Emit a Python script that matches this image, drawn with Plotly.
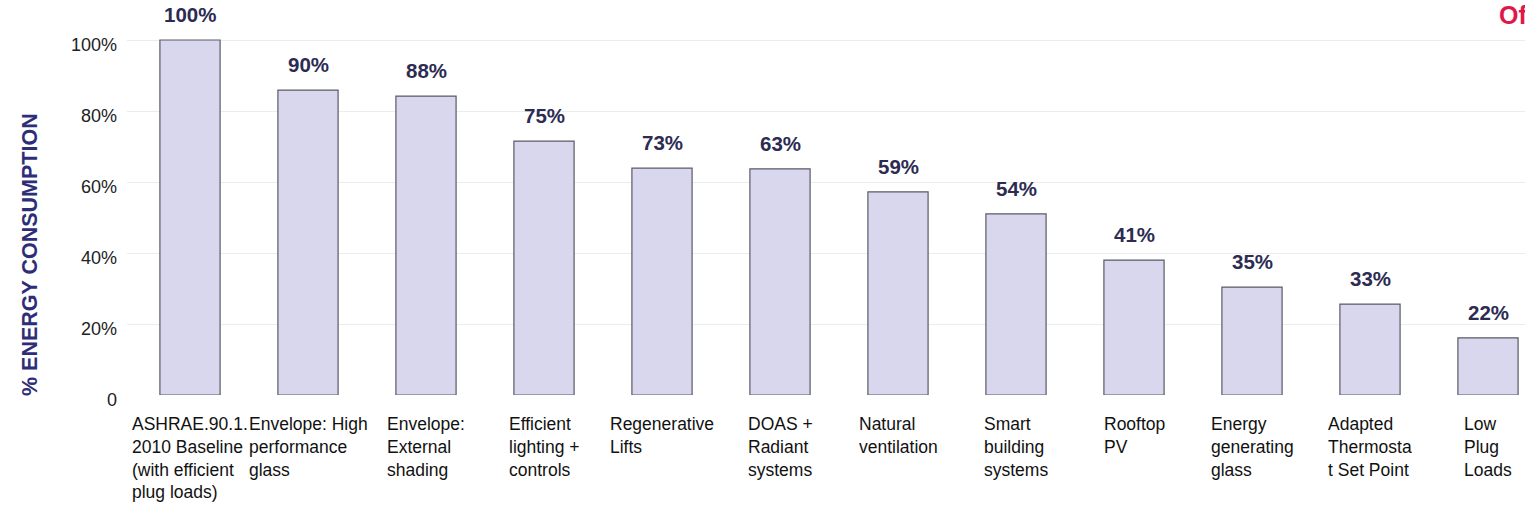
import plotly.graph_objects as go

categories = [
    "ASHRAE.90.1.<br>2010 Baseline<br>(with efficient<br>plug loads)",
    "Envelope: High<br>performance<br>glass",
    "Envelope:<br>External<br>shading",
    "Efficient<br>lighting +<br>controls",
    "Regenerative<br>Lifts",
    "DOAS +<br>Radiant<br>systems",
    "Natural<br>ventilation",
    "Smart<br>building<br>systems",
    "Rooftop<br>PV",
    "Energy<br>generating<br>glass",
    "Adapted<br>Thermosta<br>t Set Point",
    "Low<br>Plug<br>Loads",
]
bar_values = [100, 85.9, 84.2, 71.5, 63.9, 63.7, 57.2, 51.0, 38.0, 30.4, 25.6, 16.1]
value_labels = ["100%", "90%", "88%", "75%", "73%", "63%", "59%", "54%", "41%", "35%", "33%", "22%"]
y_ticks = [0, 20, 40, 60, 80, 100]
y_tick_labels = ["0", "20%", "40%", "60%", "80%", "100%"]

x = list(range(len(categories)))

W, H = 1525, 519
L, B = 127, 124
PW, PH = W - L, H - B
STEP = 118.0
X0 = -0.5 - 4 / STEP

fig = go.Figure()
fig.add_trace(go.Bar(
    x=x, y=bar_values, width=0.51,
    marker=dict(color="#d9d7ee", line=dict(color="#5a5a66", width=1.2)),
    hoverinfo="skip",
))

FONT = "Liberation Sans, Arial"
annotations = []
for i, (v, lab) in enumerate(zip(bar_values, value_labels)):
    annotations.append(dict(
        x=i, y=v, xref="x", yref="y", text="<b>%s</b>" % lab, showarrow=False,
        yanchor="bottom", yshift=12,
        font=dict(family=FONT, size=20.5, color="#2c2b52"),
    ))
for i, c in enumerate(categories):
    annotations.append(dict(
        x=i, y=0, xref="x", yref="y", text=c, showarrow=False,
        yanchor="top", xanchor="center", align="left", yshift=-17,
        font=dict(family=FONT, size=17.5, color="#111111"),
    ))
# y-axis title
annotations.append(dict(
    x=(30 - L) / PW, y=(PH - 255) / PH, xref="paper", yref="paper",
    text="<b>% ENERGY CONSUMPTION</b>", showarrow=False, textangle=-90,
    xanchor="center", yanchor="middle",
    font=dict(family=FONT, size=21.5, color="#2e2e78"),
))
# partially visible text at the top-right corner
annotations.append(dict(
    x=(1497 - L) / PW, y=(PH + 1) / PH, xref="paper", yref="paper",
    text="<b>Of</b>", showarrow=False, xanchor="left", yanchor="top",
    font=dict(family=FONT, size=25, color="#e0184a"),
))

fig.update_layout(
    width=W, height=H,
    margin=dict(l=L, r=0, t=0, b=B),
    paper_bgcolor="white", plot_bgcolor="white",
    showlegend=False,
    xaxis=dict(range=[X0, X0 + PW / STEP], showticklabels=False, showgrid=False,
               zeroline=False, showline=False, fixedrange=True),
    yaxis=dict(range=[0, 100 * PH / 355], tickvals=y_ticks, ticktext=y_tick_labels,
               showgrid=True, gridcolor="#ececec", gridwidth=1, zeroline=False,
               showline=False, ticks="", ticklabelstandoff=9, ticklabelshift=5,
               tickfont=dict(family=FONT, size=18, color="#222222")),
    annotations=annotations,
)
fig.write_html("out.html", config={"displayModeBar": False},
               post_script="document.body.style.margin='0px';")
